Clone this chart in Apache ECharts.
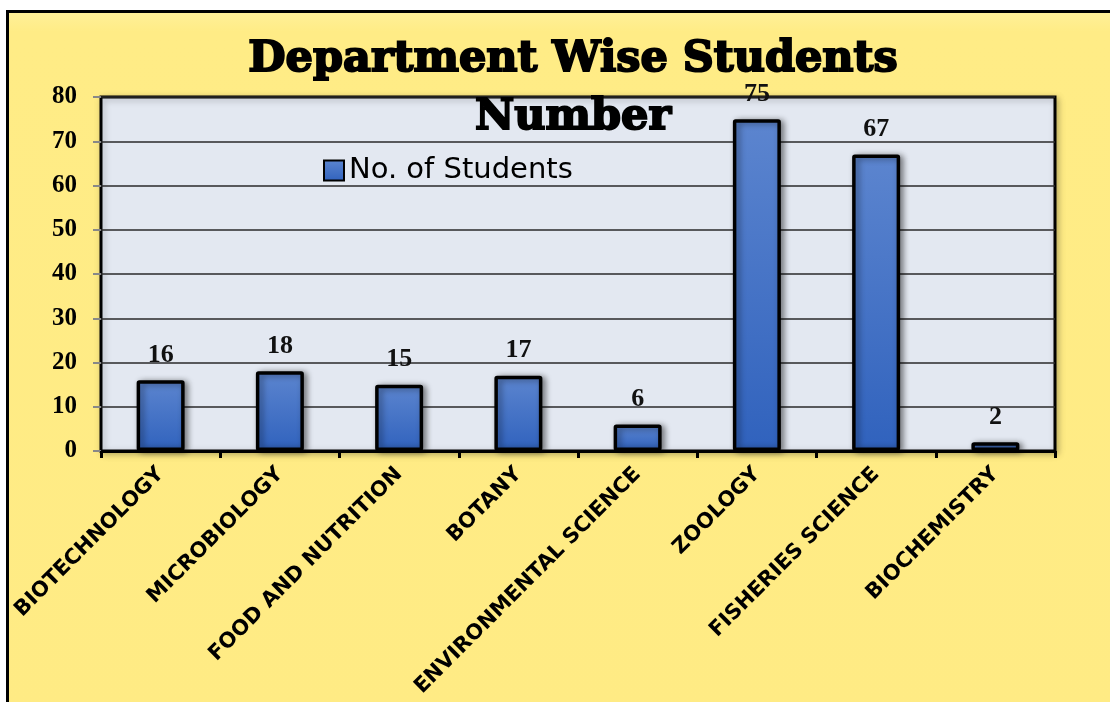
<!DOCTYPE html>
<html>
<head>
<meta charset="utf-8">
<title>Department Wise Students Number</title>
<script src="https://cdn.jsdelivr.net/npm/echarts@6/dist/echarts.min.js"></script>
<style>
  html, body { margin: 0; padding: 0; background: #fff; }
  #chartBox { width: 1110px; height: 702px; }
</style>
</head>
<body>
<div id="chartBox"></div>
<script>
  // data
  var departments = ['BIOTECHNOLOGY', 'MICROBIOLOGY', 'FOOD AND NUTRITION', 'BOTANY',
    'ENVIRONMENTAL SCIENCE', 'ZOOLOGY', 'FISHERIES SCIENCE', 'BIOCHEMISTRY'];
  var students = [16, 18, 15, 17, 6, 75, 67, 2];
  var seriesName = 'No. of Students';
  var yTicks = [0, 10, 20, 30, 40, 50, 60, 70, 80];

  var chart = echarts.init(document.getElementById('chartBox'));

  var barColor = new echarts.graphic.LinearGradient(0, 0, 0, 1, [
    { offset: 0, color: '#5C85CF' },
    { offset: 1, color: '#3062BD' }
  ]);

  var option = {
    backgroundColor: '#ffffff',
    graphic: [
      {                       // yellow outer frame, black line on left/top
        type: 'rect',
        z: -10,
        shape: { x: 7.5, y: 11.5, width: 1140, height: 720 },
        style: {
          fill: new echarts.graphic.LinearGradient(0, 0, 0, 1, [
            { offset: 0, color: '#FFF09A' },
            { offset: 0.03, color: '#FFEC86' },
            { offset: 1, color: '#FFEB84' }
          ]),
          stroke: '#000',
          lineWidth: 3
        }
      }
    ],
    title: {
      text: 'Department Wise Students\nNumber',
      left: 568,
      top: 26,
      textAlign: 'center',
      textStyle: {
        fontFamily: 'DejaVu Serif',
        fontWeight: 'bold',
        fontSize: 43,
        lineHeight: 58,
        color: '#000',
        textBorderColor: '#000',
        textBorderWidth: 2
      }
    },
    legend: {
      data: [seriesName],
      left: 318,
      top: 151,
      itemWidth: 20,
      itemHeight: 20,
      itemGap: 8,
      icon: 'rect',
      itemStyle: { color: barColor, borderColor: '#000', borderWidth: 2 },
      textStyle: { fontFamily: 'DejaVu Sans', fontSize: 29, color: '#000' }
    },
    grid: {
      left: 101,
      right: 55,
      top: 97,
      bottom: 251,
      containLabel: false,
      outerBoundsMode: 'none',
      show: true,
      backgroundColor: '#E3E8F1',
      borderColor: '#000',
      borderWidth: 3,
      shadowColor: 'rgba(0,0,0,0.25)',
      shadowBlur: 6,
      shadowOffsetX: 2,
      shadowOffsetY: 2
    },
    xAxis: {
      type: 'category',
      data: departments,
      axisLine: { lineStyle: { color: '#000', width: 3 } },
      axisTick: { show: true, interval: 0, length: 7, lineStyle: { color: '#000', width: 3 } },
      axisLabel: {
        interval: 0,
        rotate: 45,
        margin: 20,
        color: '#000',
        fontFamily: 'DejaVu Sans',
        fontWeight: 'bold',
        fontSize: 21
      }
    },
    yAxis: {
      type: 'value',
      min: yTicks[0],
      max: yTicks[yTicks.length - 1],
      interval: 10,
      axisLine: { show: false },
      axisTick: { show: true, length: 8, lineStyle: { color: '#888', width: 2 } },
      axisLabel: {
        margin: 24,
        color: '#000',
        fontFamily: 'Liberation Serif',
        fontWeight: 'bold',
        fontSize: 25
      },
      splitLine: { lineStyle: { color: '#2a2a2a', width: 1.5 } }
    },
    series: [
      {
        name: seriesName,
        type: 'bar',
        data: students,
        barWidth: 48,
        itemStyle: {
          color: barColor,
          borderColor: '#000',
          borderWidth: 3.5,
          borderRadius: 1,
          shadowColor: 'rgba(0,0,0,0.45)',
          shadowBlur: 6,
          shadowOffsetX: 3,
          shadowOffsetY: 1
        },
        label: {
          show: true,
          position: 'top',
          distance: 12,
          color: '#111',
          fontFamily: 'Liberation Serif',
          fontWeight: 'bold',
          fontSize: 26
        }
      }
    ]
  };

  chart.setOption(option);
</script>
</body>
</html>
